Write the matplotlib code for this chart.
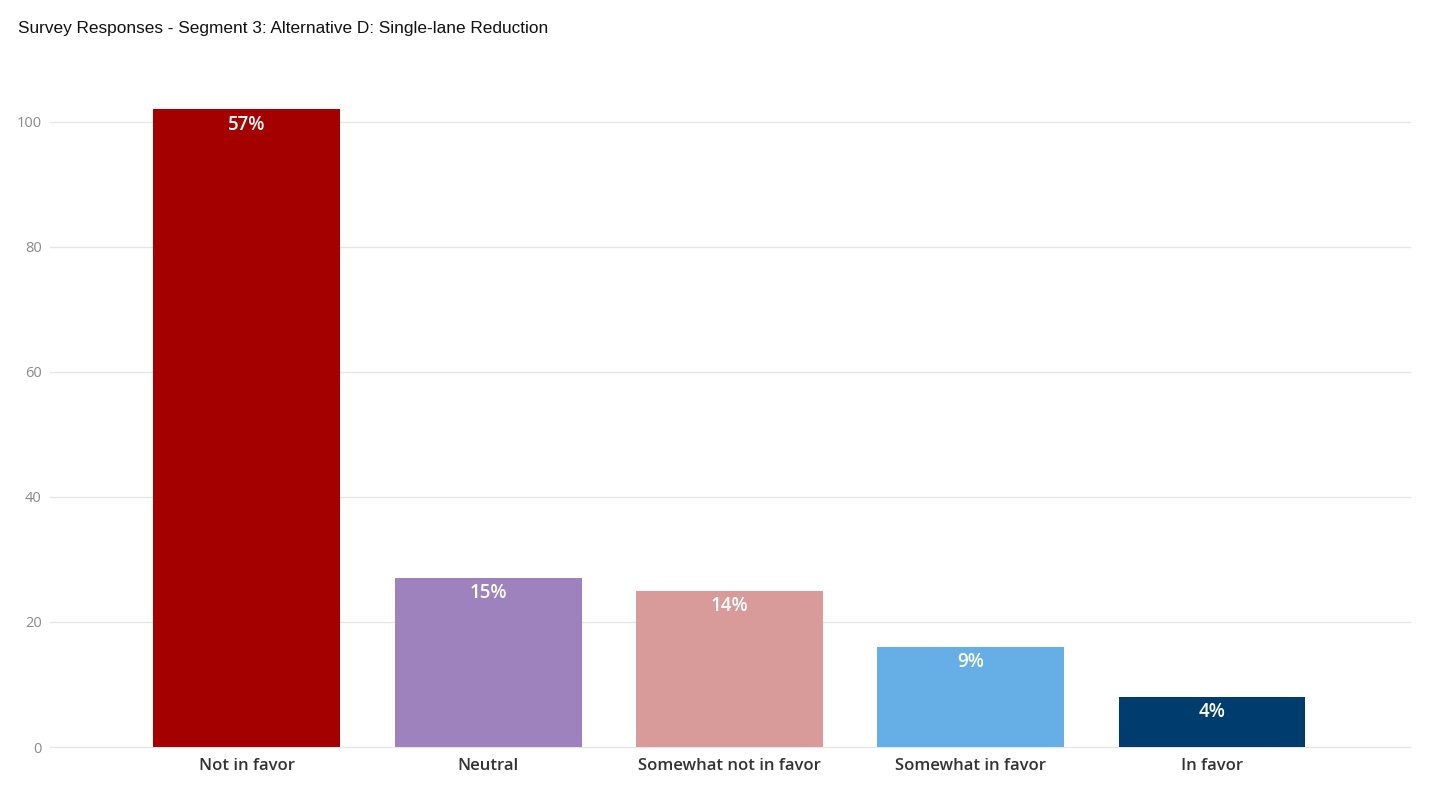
import matplotlib
matplotlib.use("Agg")
import matplotlib.pyplot as plt

categories = ["Not in favor", "Neutral", "Somewhat not in favor", "Somewhat in favor", "In favor"]
values = [102, 27, 25, 16, 8]
colors = ["#A50000", "#9D82BD", "#D99A9A", "#66AEE6", "#003C6E"]
yticks = [0, 20, 40, 60, 80, 100]
title = "Survey Responses - Segment 3: Alternative D: Single-lane Reduction"

fig = plt.figure(figsize=(14.32, 8.06), dpi=100)
ax = fig.add_axes([0.0349, 0.0732, 0.9497, 0.7928])

x = list(range(len(categories)))
bars = ax.bar(x, values, width=0.774, color=colors, zorder=3)

total = sum(values)
for xi, v in zip(x, values):
    pct = f"{round(v / total * 100)}%"
    ax.annotate(pct, (xi, v), xytext=(0, -11), textcoords="offset points",
                ha="center", va="center", color="white", fontsize=13.5,
                fontweight="semibold", family="Open Sans", zorder=4)

ax.set_xlim(-0.816, 4.82)
ax.set_ylim(0, 102.2)
ax.set_yticks(yticks)
ax.yaxis.grid(True, color="#E6E6E6", linewidth=1.0, zorder=0)
for gl in ax.get_ygridlines():
    gl.set_clip_on(False)
ax.set_axisbelow(True)
for s in ax.spines.values():
    s.set_visible(False)
ax.tick_params(axis="both", length=0)
ax.tick_params(axis="y", labelcolor="#8A8A8A", labelsize=10.5, pad=6)
ax.tick_params(axis="x", labelcolor="#333333", labelsize=12, pad=8)
ax.set_xticks(x)
ax.set_xticklabels(categories, family="Open Sans", fontweight="semibold")
for lab in ax.get_yticklabels():
    lab.set_family("Open Sans")

fig.text(0.0126, 1 - 28 / 806, title, family="Liberation Sans", fontsize=12.45,
         color="#111111", ha="left", va="center")

fig.savefig("out.png", dpi=100)
